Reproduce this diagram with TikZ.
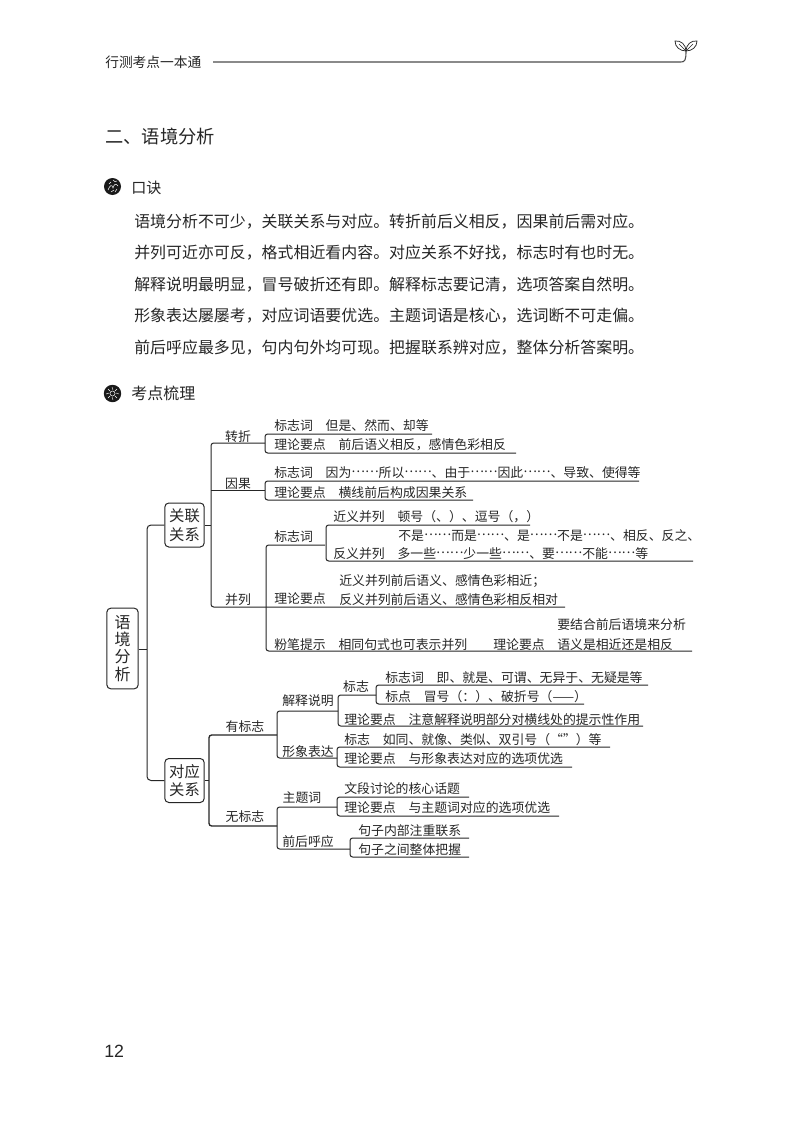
\documentclass[tikz,border=0pt]{standalone}
\usepackage{fontspec}
\setmainfont{Noto Sans CJK SC}
\newfontfamily\numfont{Liberation Sans}
\newcommand{\fs}[1]{\fontsize{#1}{#1}\selectfont}
\newcommand{\dd}{\raisebox{0.34em}{……}}
\newcommand{\brk}[6]{% name, x, ytop, xtopend, ybot, xbotend
  \coordinate (#1a) at (#4,#3);\coordinate (#1b) at (#2,#3);
  \coordinate (#1c) at (#2,#5);\coordinate (#1d) at (#6,#5);
  \draw[ln,rounded corners=2pt] (#1a) -- (#1b) -- (#1c) -- (#1d);}
\tikzset{
  ln/.style={draw=black!85,line width=0.75pt},
  txt/.style={anchor=west,inner sep=0pt,text height=0.86em,text depth=0.1em,font=\fs{9.65pt},text=black!85},
  cen/.style={txt,anchor=center},
  poem/.style={txt,font=\fs{11.95pt}},
  rbox/.style={draw=black!85,line width=0.75pt,rounded corners=3pt,align=center,inner sep=0pt,font=\fontsize{11.5pt}{14pt}\selectfont,text=black!85},
  ico/.style={white,line width=0.35pt},
}
\begin{document}
\begin{tikzpicture}[x=0.75pt,y=-0.75pt]
\useasboundingbox (0,0) rectangle (800,1138);
\fill[white] (0,0) rectangle (800,1138);
% header
\node[txt,font=\fs{10.3pt}] (hdr) at (105,62) {行测考点一本通};
\coordinate (hl) at (213,62);
\coordinate (sp) at (686,51);
\draw[black!70,line width=0.8pt] (hl) -- (681,62) .. controls (685,62) and (686,60) .. (sp);
\draw[black!85,line width=0.55pt] (sp) .. controls (680,51) and (675,47) .. (675,41) .. controls (681,40) and (686,45) .. (sp);
\draw[black!85,line width=0.55pt] (sp) .. controls (692,51) and (697,47) .. (697,41) .. controls (691,40) and (686,45) .. (sp);
\draw[black!85,line width=0.4pt] (sp) -- (679,44) (sp) -- (693,44);
% title
\node[txt,font=\fs{13.7pt}] (title) at (105,138.5) {二、语境分析};
% icon 1
\fill[black!90] (112.5,186.5) circle (8.5);
\draw[ico] (108,190) .. controls (110,185) and (112,184) .. (113,188) .. controls (114,184) and (116,183) .. (118,186)
  (113,180) .. controls (114,182) and (116,182) .. (117,181) (109,184) -- (111,182) (111,192) -- (114,190) (115,192) -- (117,189);
\node[txt,font=\fs{11.3pt}] (kj) at (131,188) {口诀};
\node[poem] (p1) at (134,222) {语境分析不可少，关联关系与对应。转折前后义相反，因果前后需对应。};
\node[poem] (p2) at (134,253) {并列可近亦可反，格式相近看内容。对应关系不好找，标志时有也时无。};
\node[poem] (p3) at (134,285) {解释说明最明显，冒号破折还有即。解释标志要记清，选项答案自然明。};
\node[poem] (p4) at (134,316) {形象表达屡屡考，对应词语要优选。主题词语是核心，选词断不可走偏。};
\node[poem] (p5) at (134,348) {前后呼应最多见，句内句外均可现。把握联系辨对应，整体分析答案明。};
% icon 2
\fill[black!90] (112.5,393.5) circle (8.7);
\draw[ico] (112.5,393.5) circle (2.5) (106,394) -- (109,393) (116,393) -- (119,394) (112,387) -- (113,390) (112,397) -- (113,400)
  (108,389) -- (110,391) (115,396) -- (117,398) (117,389) -- (115,391) (108,398) -- (110,396);
\node[txt,font=\fs{12pt}] (kd) at (131,394) {考点梳理};
% tree boxes
\node[rbox,minimum width=23.5pt,minimum height=60.5pt,font=\fontsize{12pt}{12.9pt}\selectfont] (root) at (122.5,648.5) {语\\境\\分\\析};
\node[rbox,minimum width=29.5pt,minimum height=33pt] (gl) at (184.5,525) {关联\\关系};
\node[rbox,minimum width=29.5pt,minimum height=33pt] (dy) at (184.5,780.5) {对应\\关系};
% trunk
\coordinate (t1) at (147,525); \coordinate (t2) at (147,780.5); \coordinate (t3) at (147,649);
\draw[ln,rounded corners=3pt] (gl.west) -- (t1) -- (t2) -- (dy.west);
\draw[ln] (root.east |- t3) -- (t3);
% upper branch
\coordinate (u0) at (211,525);
\coordinate (z1) at (211,443); \coordinate (z2) at (265,443);
\coordinate (y2) at (265,490); \coordinate (y1) at (211,490);
\coordinate (b1) at (211,607); \coordinate (b2) at (565,607);
\draw[ln] (gl.east) -- (u0);
\draw[ln,rounded corners=2pt] (z2) -- (z1) -- (b1) -- (b2);
\draw[ln] (y1) -- (y2);
\node[cen] (zhe) at (238,436) {转折};
\node[cen] (yin) at (238,483) {因果};
\node[cen] (bing) at (238,599) {并列};
\brk{A}{265}{434}{432}{453}{516}
\node[txt] (a1) at (274,425) {标志词\hspace{1em}但是、然而、却等};
\node[txt] (a2) at (274,444) {理论要点\hspace{1em}前后语义相反，感情色彩相反};
\brk{B}{265}{481}{639}{500}{473}
\node[txt] (b1t) at (274,472) {标志词\hspace{1em}因为\dd 所以\dd 、由于\dd 因此\dd 、导致、使得等};
\node[txt] (b2t) at (274,492) {理论要点\hspace{1em}横线前后构成因果关系};
\brk{C}{266}{545}{325}{651}{692}
\brk{D}{326}{525}{530}{561}{693}
\node[txt] (c1) at (274,536) {标志词};
\node[txt] (d1) at (333,516) {近义并列\hspace{1em}顿号（、）、逗号（，）};
\node[txt] (d2) at (398,535) {不是\dd 而是\dd 、是\dd 不是\dd 、相反、反之、};
\node[txt] (d3) at (333,553) {反义并列\hspace{1em}多一些\dd 少一些\dd 、要\dd 不能\dd 等};
\node[txt] (e1) at (339,580) {近义并列前后语义、感情色彩相近；};
\node[txt] (e2) at (274,598) {理论要点};
\node[txt] (e3) at (339,599) {反义并列前后语义、感情色彩相反相对};
\node[txt] (f1) at (557,624) {要结合前后语境来分析};
\node[txt] (f2) at (274,644) {粉笔提示\hspace{1em}相同句式也可表示并列};
\node[txt] (f3) at (493,644) {理论要点};
\node[txt] (f4) at (557,644) {语义是相近还是相反};
% lower branch
\coordinate (v0) at (209,780.5);
\coordinate (v1) at (209,735); \coordinate (v2) at (209,826);
\coordinate (v3) at (277,735); \coordinate (v4) at (277,826);
\draw[ln] (dy.east) -- (v0);
\draw[ln,line width=1pt,rounded corners=2pt] (v3) -- (v1) -- (v2) -- (v4);
\node[cen] (you) at (245,726) {有标志};
\node[cen] (wu) at (245,816) {无标志};
\brk{E}{277}{711}{338}{758}{337}
\node[cen] (jie) at (308,700) {解释说明};
\node[cen] (xing) at (308,751) {形象表达};
\brk{F}{338}{695}{376}{726}{643}
\node[cen] (biao) at (356,686) {标志};
\node[txt] (g3) at (344,719) {理论要点\hspace{1em}注意解释说明部分对横线处的提示性作用};
\brk{G}{376}{685}{648}{704}{584}
\node[txt] (g1) at (385,677) {标志词\hspace{1em}即、就是、可谓、无异于、无疑是等};
\node[txt] (g2) at (385,696) {标点\hspace{1em}冒号（：）、破折号（——）};
\brk{H}{337}{747}{610}{767}{572}
\node[txt] (h1) at (344,739) {标志\hspace{1em}如同、就像、类似、双引号（“”）等};
\node[txt] (h2) at (344,758) {理论要点\hspace{1em}与形象表达对应的选项优选};
\brk{I}{277}{807}{337}{849}{350}
\node[cen] (zhu) at (302,797) {主题词};
\node[cen] (qian) at (308,841) {前后呼应};
\brk{J}{337}{797}{469}{816}{559}
\node[txt] (j1) at (344,788) {文段讨论的核心话题};
\node[txt] (j2) at (344,807) {理论要点\hspace{1em}与主题词对应的选项优选};
\brk{K}{350}{838}{469}{857}{469}
\node[txt] (k1) at (358,830) {句子内部注重联系};
\node[txt] (k2) at (358,849) {句子之间整体把握};
% page number
\node[txt,font=\numfont\fs{13.3pt}] (pg) at (104,1052.5) {12};
\end{tikzpicture}
\end{document}
